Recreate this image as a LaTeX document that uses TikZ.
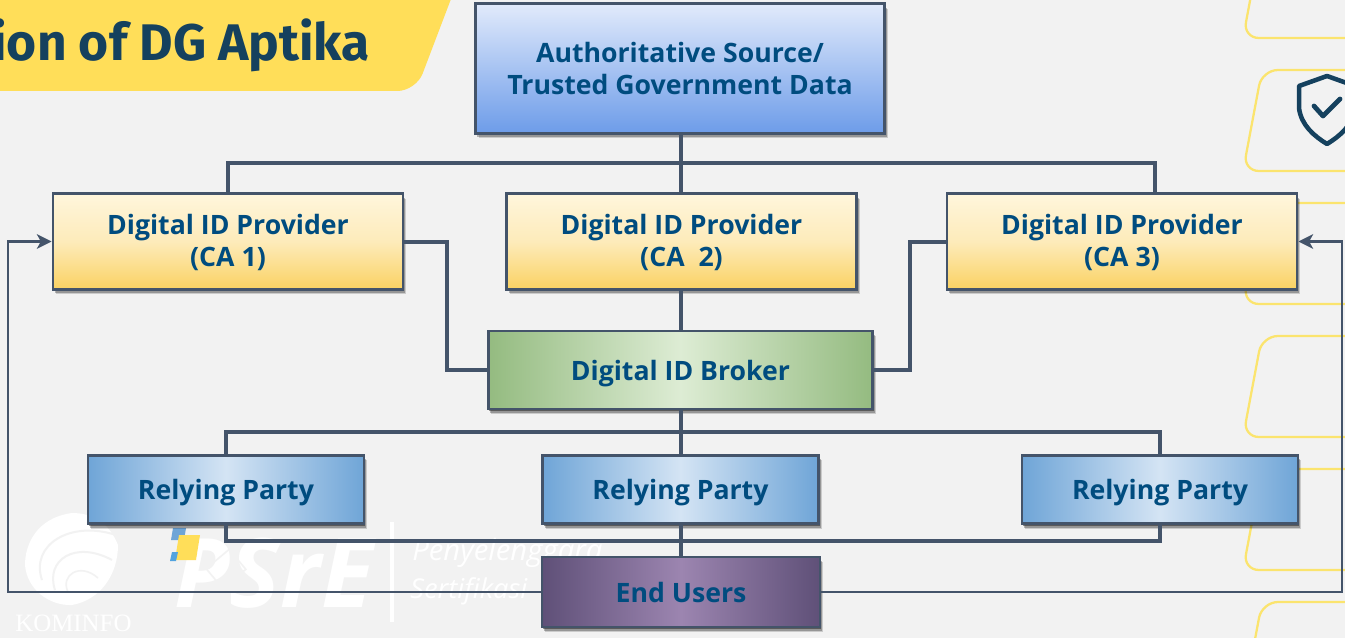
\documentclass[tikz,border=0pt]{standalone}
\usepackage{fontspec}
\setmainfont{Open Sans}
\newfontfamily\titlefont{Fira Sans}
\newfontfamily\kominfofont{Liberation Serif}
\usetikzlibrary{arrows.meta,shadows}
\definecolor{pagegray}{HTML}{F2F2F2}
\definecolor{bannerYellow}{HTML}{FFDE59}
\definecolor{outlineYellow}{HTML}{FBE46E}
\definecolor{titleBlue}{HTML}{15415E}
\definecolor{labelBlue}{HTML}{004C7F}
\definecolor{linkSlate}{HTML}{44546A}
\definecolor{authTop}{HTML}{E1EAFB}
\definecolor{authBottom}{HTML}{6D9CE9}
\definecolor{caTop}{HTML}{FFF6DC}
\definecolor{caMid}{HTML}{FDEBBA}
\definecolor{caBottom}{HTML}{FAD263}
\definecolor{brokerEdge}{HTML}{94BB80}
\definecolor{brokerMid}{HTML}{DDECD4}
\definecolor{partyEdge}{HTML}{6FA5D7}
\definecolor{partyMid}{HTML}{D4E4F4}
\definecolor{userEdge}{HTML}{5F5078}
\definecolor{userMid}{HTML}{9C85B0}

\begin{document}
\begin{tikzpicture}[
  x=0.75pt, y=-0.75pt,
  > = {Stealth[length=11pt,width=11pt,inset=3pt]},
  box/.style = {draw=linkSlate, line width=2.2pt, inner sep=0pt, align=center,
    font=\fontsize{20}{24}\selectfont\bfseries, text=labelBlue,
    drop shadow={shadow xshift=2.4pt,shadow yshift=-3.8pt,fill=black,opacity=.16},
    drop shadow={shadow xshift=1.6pt,shadow yshift=-2.8pt,fill=black,opacity=.26},
    drop shadow={shadow xshift=.8pt,shadow yshift=-1.6pt,fill=black,opacity=.4}},
  authbox/.style = {box, top color=authTop, bottom color=authBottom, minimum width=307pt, minimum height=97pt},
  cabox/.style = {box, top color=caTop, bottom color=caBottom, middle color=caMid, minimum width=262.5pt, minimum height=71.5pt, text depth=2pt},
  brokerbox/.style = {box, left color=brokerEdge, right color=brokerEdge, middle color=brokerMid, minimum width=288.5pt, minimum height=58.5pt, text depth=0pt},
  partybox/.style = {box, left color=partyEdge, right color=partyEdge, middle color=partyMid, minimum width=207pt, minimum height=51.5pt, text depth=0pt},
  userbox/.style = {box, left color=userEdge, right color=userEdge, middle color=userMid, minimum width=208.5pt, minimum height=52.5pt},
  link/.style = {draw=linkSlate, line width=3pt},
  feed/.style = {draw=linkSlate, line width=2pt},
  wmark/.style = {text=white, inner sep=0pt}
  ]
  \useasboundingbox (0,0) rectangle (1345,638);
  \clip (0,0) rectangle (1345,638);
  \fill[pagegray] (0,0) rectangle (1345,638);

  % yellow outlines on the right
  \foreach \ytop in {-63,70,203,336,469,602}
    \draw[outlineYellow, line width=1.7pt, rounded corners=12pt]
      (1360,\ytop) -- (1262,\ytop) -- (1243,\ytop+101) -- (1360,\ytop+101);

  % shield
  \draw[titleBlue, line width=3.4pt, line join=round]
    (1327,76) -- (1299,86) -- (1299,108) .. controls (1301,125) and (1314,136) .. (1327,144)
    .. controls (1340,136) and (1353,125) .. (1355,108) -- (1355,86) -- cycle;
  \draw[titleBlue, line width=3.6pt, line cap=round, line join=round]
    (1314,106) -- (1323,116) -- (1340,99);

  % banner
  \fill[bannerYellow, rounded corners=14pt] (-30,-30) -- (462,-30) -- (416,91) -- (-30,91) -- cycle;
  \node[text=titleBlue, anchor=base east, inner sep=0pt, font=\titlefont\fontsize{38.6}{44}\selectfont\bfseries] (title) at (370,61) {ion of DG Aptika};

  % watermark
  \fill[white] (72,513) .. controls (36,518) and (25,545) .. (25,565)
    .. controls (27,590) and (50,606) .. (72,605) .. controls (100,600) and (118,575) .. (118,545)
    .. controls (110,525) and (95,513) .. (72,513) -- cycle;
  \draw[pagegray, line width=1.5pt] (42,580) .. controls (30,545) and (70,520) .. (116,535);
  \draw[pagegray, line width=1.5pt] (55,590) .. controls (45,560) and (75,540) .. (112,560);
  \draw[pagegray, line width=1.2pt] (68,592) .. controls (60,575) and (80,562) .. (98,578);
  \node[wmark, font=\kominfofont\fontsize{18.7}{20}\selectfont, anchor=base west] (kominfo) at (15,631) {KOMINFO};
  \node[wmark, font=\fontsize{72}{76}\selectfont\bfseries\itshape, anchor=base west] (psre) at (174,607) {PSrE};
  \fill[partyEdge] (173,528) -- (186,528) -- (184,540) -- (171,540) -- cycle;
  \fill[bannerYellow] (179,535) -- (200,535) -- (196,560) -- (175,560) -- cycle;
  \fill[cyan!70!blue!70!white] (172,552) -- (178,552) -- (176,561) -- (170,561) -- cycle;
  \draw[pagegray, line width=1.2pt, rotate around={40:(226,569)}] (211,556) rectangle (241,582);
  \draw[white, line width=3pt] (392,522) -- (392,622);
  \node[wmark, font=\fontsize{22}{26}\selectfont\itshape, anchor=base west] (penye) at (412,560) {Penyelenggara};
  \node[wmark, font=\fontsize{20.5}{26}\selectfont\itshape, anchor=base west] (sertif) at (410,598) {Sertifikasi};

  % boxes
  \node[authbox] (auth) at (680,68.5) {Authoritative Source/\\Trusted Government Data};
  \node[cabox] (ca1) at (228,241.5) {Digital ID Provider\\(CA 1)};
  \node[cabox] (ca2) at (681.5,241.5) {Digital ID Provider\\(CA~~2)};
  \node[cabox] (ca3) at (1122,241.5) {Digital ID Provider\\(CA 3)};
  \node[brokerbox] (broker) at (680.5,370) {Digital ID Broker};
  \node[partybox] (rp1) at (226,489.5) {Relying Party};
  \node[partybox] (rp2) at (680.5,489.5) {Relying Party};
  \node[partybox] (rp3) at (1160,489.5) {Relying Party};
  \node[userbox] (users) at (681,592) {End Users};

  \coordinate (topbus) at (680.5,163);
  \coordinate (ca3drop) at (1155,194);
  \coordinate (midbus) at (680.5,432);
  \coordinate (lowbus) at (680.5,541);
  \coordinate (feedleft) at (8,241.5);
  \coordinate (feedright) at (1342,241.5);

  \draw[link] (auth.south -| topbus) -- (topbus) -- (topbus |- ca2.north);
  \draw[link] (ca1.north) |- (topbus) -| (ca3drop);
  \draw[link] (topbus |- ca2.south) -- (topbus |- broker.north);
  \draw[link] (ca1.east) -- ++(43,0) |- (broker.west);
  \draw[link] (ca3.west) -- ++(-36,0) |- (broker.east);
  \draw[link] (broker.south) -- (rp2.north);
  \draw[link] (rp1.north) |- (midbus) -| (rp3.north);
  \draw[link] (rp2.south) -- (rp2.south |- users.north);
  \draw[link] (rp1.south) |- (lowbus) -| (rp3.south);
  \draw[feed,->] (users.west) -| (feedleft) -- (ca1.west);
  \draw[feed,->] (users.east) -| (feedright) -- (ca3.east);

\end{tikzpicture}
\end{document}
